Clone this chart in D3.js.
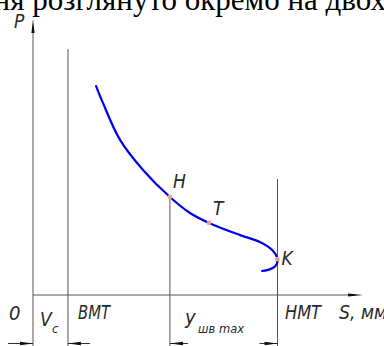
<!DOCTYPE html>
<html>
<head>
<meta charset="utf-8">
<script src="https://cdn.jsdelivr.net/npm/d3@7"></script>
<style>
  html, body { margin: 0; padding: 0; background: #fff; }
  svg { display: block; }
  .lbl { font-family: "Liberation Sans Narrow", "DejaVu Sans Condensed", sans-serif; font-style: italic; fill: #2a2a2a; }
  .top { font-family: "Liberation Serif", "DejaVu Serif", serif; fill: #000; }
</style>
</head>
<body>
<svg id="chart" width="384" height="346"></svg>
<script>
// curve P(S) (S in % of stroke, P in % of axis height)
const curveS = [25.8, 28.6, 35.6, 45.0, 56.0, 64.2, 72.0, 84.7, 92.8, 97.8, 100.0, 99.0, 96.1, 93.7];
const curveP = [75.7, 69.6, 56.2, 45.3, 35.5, 29.7, 26.1, 21.7, 19.2, 16.3, 13.0, 10.3, 9.1, 8.7];

const pointNames = ["H", "T", "K"];
const pointS = [56.0, 72.0, 100.0];
const pointP = [35.5, 26.1, 13.0];

const vcS = 14.3;      // BMT
const hmtS = 100;      // HMT
const axisEndS = 135;
const axisTopP = 100;
const bottomP = -19;

const svg = d3.select("#chart");

const x = d3.scaleLinear().domain([0, 100]).range([33, 277.5]);
const y = d3.scaleLinear().domain([0, 100]).range([295, 19]);

// clipped line of text above the picture
svg.append("text")
  .attr("class", "top")
  .attr("x", 386).attr("y", 10)
  .attr("text-anchor", "end")
  .style("font-size", "31px")
  .text("ння розглянуто окремо на двох");

const grey = "#555";

// P axis
svg.append("line")
  .attr("x1", x(0)).attr("x2", x(0))
  .attr("y1", y(bottomP)).attr("y2", y(axisTopP) + 8)
  .attr("stroke", grey).attr("stroke-width", 1);
svg.append("path")
  .attr("d", `M${x(0)},${y(axisTopP)} L${x(0) + 1.6},${y(axisTopP) + 14} L${x(0) - 1.6},${y(axisTopP) + 14}Z`)
  .attr("fill", "#111");

// S axis
svg.append("line")
  .attr("x1", x(0)).attr("x2", x(axisEndS) - 8)
  .attr("y1", y(0)).attr("y2", y(0))
  .attr("stroke", grey).attr("stroke-width", 1);
svg.append("path")
  .attr("d", `M${x(axisEndS)},${y(0)} L${x(axisEndS) - 15},${y(0) - 1.6} L${x(axisEndS) - 15},${y(0) + 1.6}Z`)
  .attr("fill", "#111");

// BMT, H and HMT verticals
svg.append("line")
  .attr("x1", x(vcS)).attr("x2", x(vcS))
  .attr("y1", y(89.1)).attr("y2", y(bottomP))
  .attr("stroke", grey).attr("stroke-width", 1);
svg.append("line")
  .attr("x1", x(pointS[0])).attr("x2", x(pointS[0]))
  .attr("y1", y(pointP[0])).attr("y2", y(bottomP))
  .attr("stroke", grey).attr("stroke-width", 1);
svg.append("line")
  .attr("x1", x(hmtS)).attr("x2", x(hmtS))
  .attr("y1", y(42)).attr("y2", y(bottomP))
  .attr("stroke", grey).attr("stroke-width", 1);

// dimension arrows at the bottom edge
const dimY = 343.5;
function arrow(tipX, dir, len) {
  // dir = +1 points right, -1 points left
  svg.append("line")
    .attr("x1", tipX - dir * len).attr("x2", tipX)
    .attr("y1", dimY).attr("y2", dimY)
    .attr("stroke", "#333").attr("stroke-width", 1);
  svg.append("path")
    .attr("d", `M${tipX},${dimY} L${tipX - dir * 13},${dimY - 1.7} L${tipX - dir * 13},${dimY + 1.7}Z`)
    .attr("fill", "#111");
}
arrow(x(0), 1, 25);
arrow(x(vcS), -1, 22);
arrow(x(pointS[0]), -1, 18);
arrow(x(hmtS), 1, 18);

// the curve
const line = d3.line()
  .x(i => x(curveS[i]))
  .y(i => y(curveP[i]))
  .curve(d3.curveCatmullRom.alpha(0.5));

svg.append("path")
  .attr("d", line(d3.range(curveS.length)))
  .attr("fill", "none")
  .attr("stroke", "#0000f0")
  .attr("stroke-width", 2.2)
  .attr("stroke-linecap", "round");

svg.selectAll(".pt")
  .data(pointNames)
  .enter()
  .append("circle")
  .attr("class", "pt")
  .attr("cx", (d, i) => x(pointS[i]))
  .attr("cy", (d, i) => y(pointP[i]))
  .attr("r", 2.4)
  .attr("fill", "#f49a9a");

// point labels
const ptOffX = [3, 4, 4];
const ptOffY = [-9, -8, 6];
svg.selectAll(".ptl")
  .data(pointNames)
  .enter()
  .append("text")
  .attr("class", "lbl")
  .attr("x", (d, i) => x(pointS[i]) + ptOffX[i])
  .attr("y", (d, i) => y(pointP[i]) + ptOffY[i])
  .style("font-size", "19px")
  .text(d => d);

// axis labels
function label(txt, lx, ly, size, len) {
  const t = svg.append("text")
    .attr("class", "lbl")
    .attr("x", lx).attr("y", ly)
    .style("font-size", size + "px")
    .text(txt);
  if (len) t.attr("textLength", len).attr("lengthAdjust", "spacingAndGlyphs");
  return t;
}
label("P", 14, 28, 19);
label("0", 9, 320, 20);
label("BMT", 78, 319, 20, 32);
label("HMT", 285, 319, 20, 36);
label("S, мм", 339, 319, 20, 48);

// V_c
label("V", 40, 326, 19);
label("c", 52, 333, 13);

// y_шв max
label("y", 185, 324, 20);
label("шв max", 198, 333, 13, 46);
</script>
</body>
</html>
